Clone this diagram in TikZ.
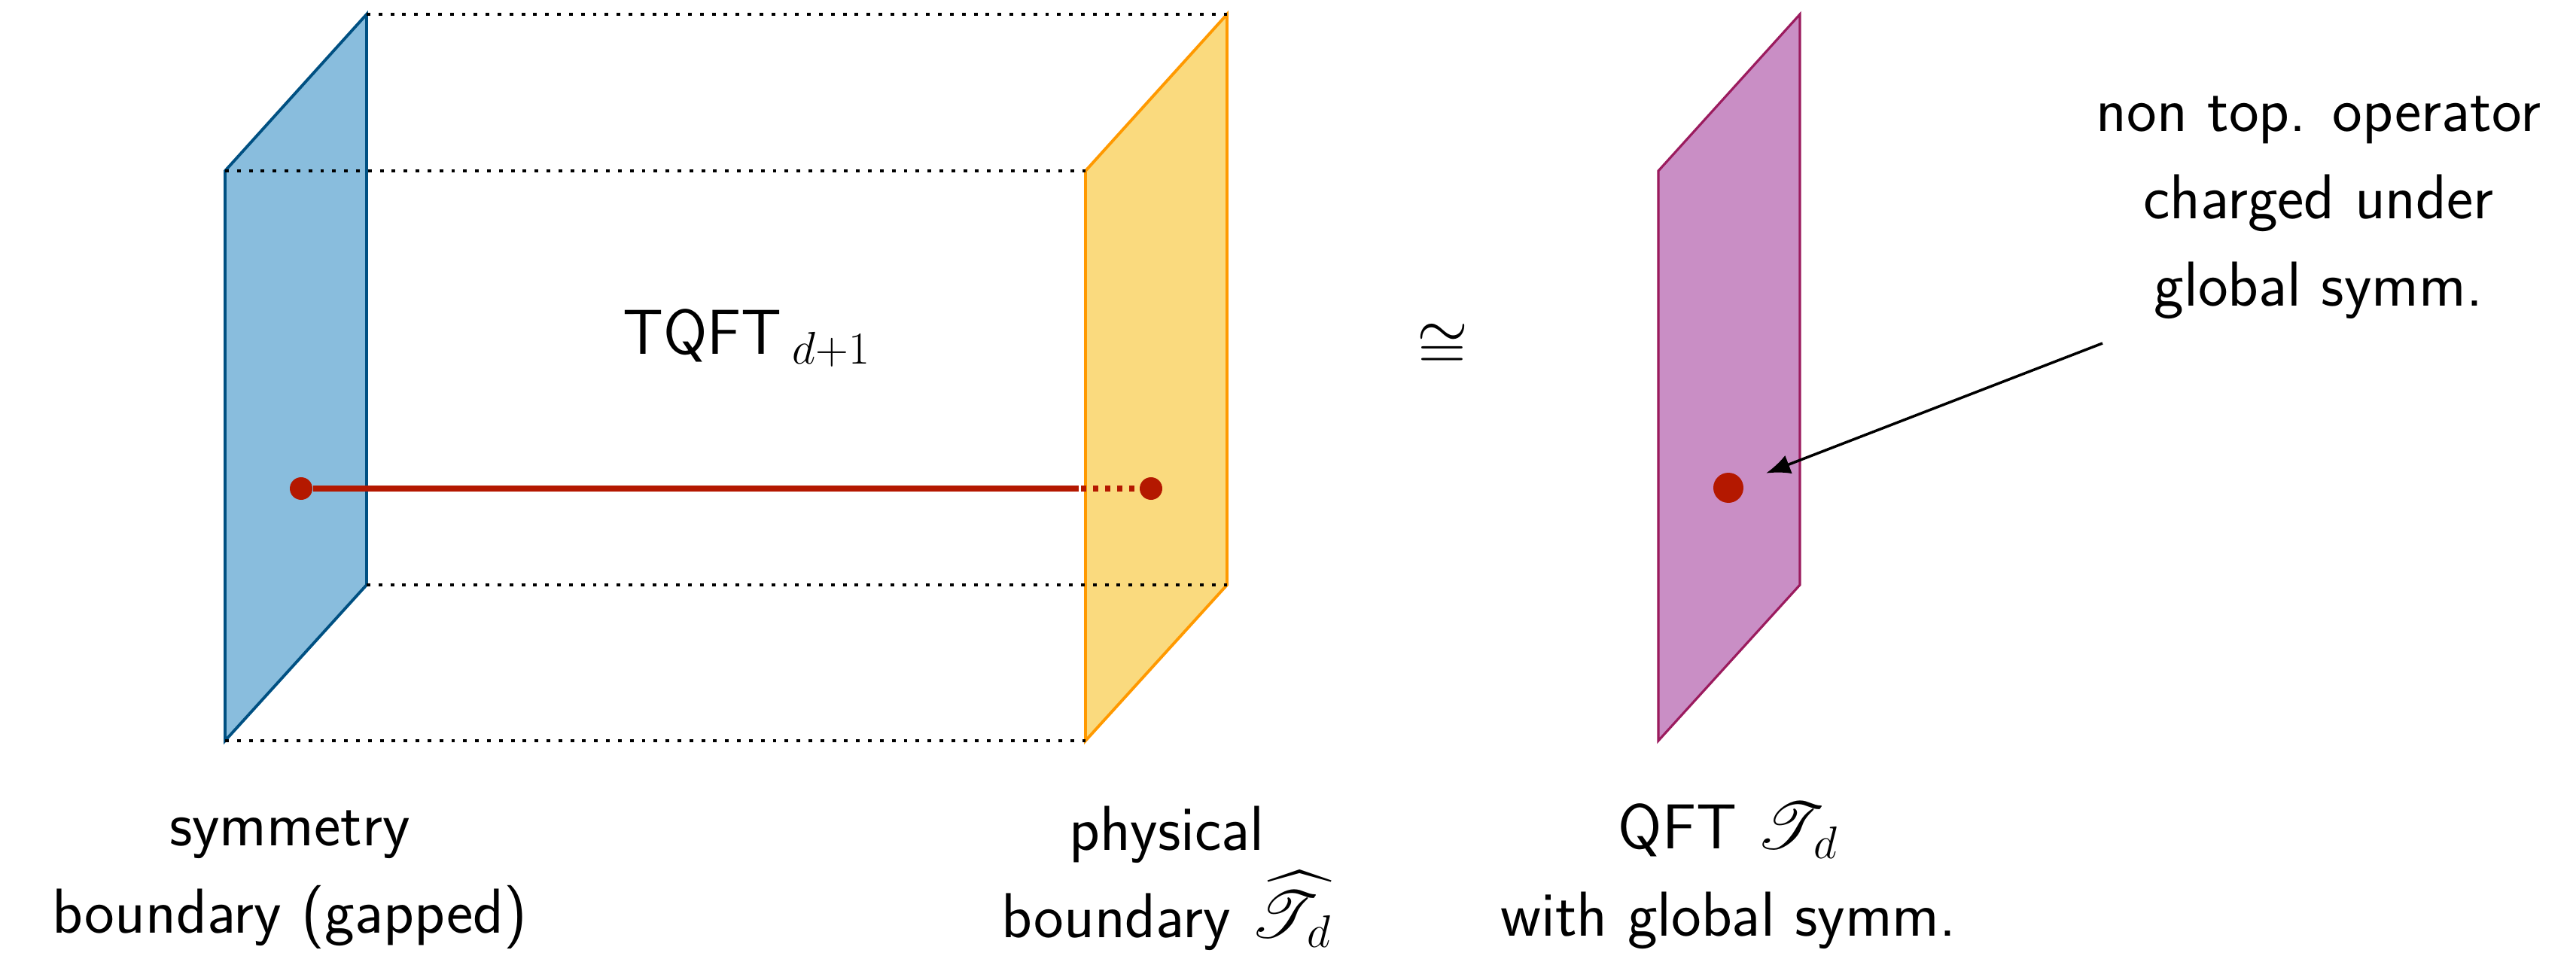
\documentclass[tikz,border=0pt]{standalone}
\usepackage{amsmath,amssymb,mathrsfs}
\usepackage{tikz}
\usetikzlibrary{arrows.meta,positioning}
\definecolor{symfill}{HTML}{89BDDD}
\definecolor{symline}{HTML}{005082}
\definecolor{physfill}{HTML}{FADA7E}
\definecolor{physline}{HTML}{FF9900}
\definecolor{qftfill}{HTML}{C98EC5}
\definecolor{qftline}{HTML}{9B1B5E}
\definecolor{opred}{HTML}{B41800}
\newcommand{\Tq}{\mathscr{T}}

\begin{document}
\begin{tikzpicture}[>={Latex[length=3.2mm,width=2.6mm]},
 every node/.style={font=\sffamily\fontsize{24}{33}\selectfont},
 panel/.style={line width=1.1pt},
 edge/.style={line width=1.4pt,dash pattern=on 1.4pt off 3.1pt},
 wire/.style={line width=2pt,draw=opred},
 charge/.style={circle,fill=opred,inner sep=0pt,minimum size=3mm},
 lbl/.style={align=center,inner sep=0pt,anchor=south}]
\useasboundingbox (0,0) rectangle (34.22,12.69);
% the two boundaries of the slab
\draw[panel,draw=symline,fill=symfill] (2.99,2.85) coordinate (sbl)
 -- ++(0,7.57) coordinate (stl) -- ++(1.88,2.08) coordinate (str)
 -- ++(0,-7.58) coordinate (sbr) -- cycle;
\draw[panel,draw=physline,fill=physfill] (14.42,2.85) coordinate (pbl)
 -- ++(0,7.57) coordinate (ptl) -- ++(1.88,2.08) coordinate (ptr)
 -- ++(0,-7.58) coordinate (pbr) -- cycle;
\draw[panel,draw=qftline,fill=qftfill,line width=0.9pt] (22.03,2.85)
 -- ++(0,7.57) -- ++(1.88,2.08) -- ++(0,-7.58) -- cycle;
% box edges
\draw[edge] (str) -- (ptr);
\draw[edge] (stl) -- (ptl);
\draw[edge] (sbr) -- (pbr);
\draw[edge] (sbl) -- (pbl);
% line operator
\node[charge] (dsym) at (4.00,6.20) {};
\node[charge] (dphys) at (15.29,6.20) {};
\node[charge,minimum size=4mm] (dqft) at (22.96,6.21) {};
\coordinate (cut) at (14.33,6.20);
\draw[wire] (dsym) -- (cut);
\draw[wire,dash pattern=on 2pt off 2.55pt,dash phase=3.7pt] (cut) -- (dphys);
% texts
\node[anchor=base] (tqft) at (9.92,7.99) {TQFT\,$_{d+1}$};
\node (iso) at (19.16,8.08) {$\cong$};
\node[lbl] (symlbl) at (3.85,0.08) {symmetry\\boundary (gapped)};
\node[lbl] (physlbl) at (15.50,0.06) {physical\\boundary $\widehat{\Tq}_{\,d}$};
\node[lbl] (qftlbl) at (22.96,0.08) {QFT ${\Tq}_{\,d}$\\with global symm.};
\node[lbl] (oplbl) at (30.80,8.45) {non top. operator\\charged under\\global symm.};
\coordinate (optail) at (27.93,8.13);
\draw[->,line width=1pt,shorten >=3.3mm] (optail) -- (dqft);
\end{tikzpicture}
\end{document}
